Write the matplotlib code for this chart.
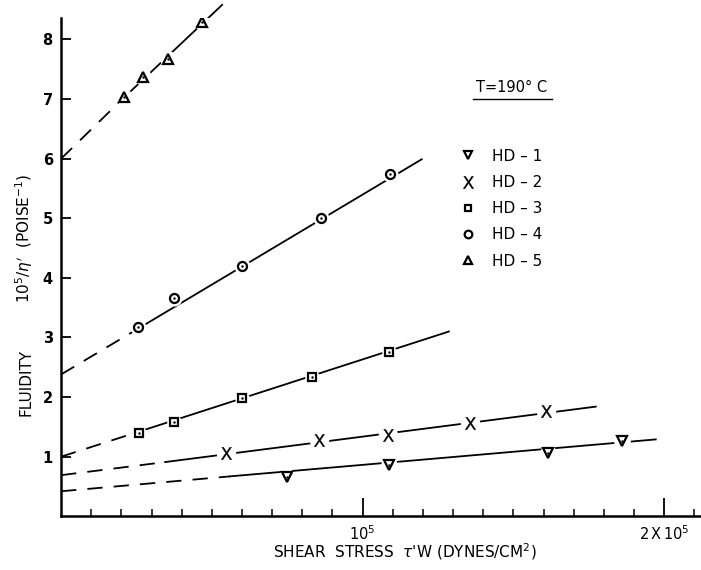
import numpy as np
import matplotlib
matplotlib.use('Agg')
import matplotlib.pyplot as plt
from matplotlib.lines import Line2D

plt.rcParams['font.family'] = ['DejaVu Sans']
plt.rcParams['mathtext.fontset'] = 'dejavusans'
plt.rcParams['lines.scale_dashes'] = False

# shear stress (dynes/cm2) and fluidity 10^5/eta' (poise^-1)
hd1_x = [74.8e3, 108.8e3, 161.3e3, 186.1e3]
hd1_y = [0.66, 0.86, 1.06, 1.26]
hd2_x = [54.6e3, 85.5e3, 108.5e3, 135.6e3, 160.8e3]
hd2_y = [1.07, 1.28, 1.36, 1.56, 1.76]
hd3_x = [25.8e3, 37.4e3, 60.0e3, 83.1e3, 108.7e3]
hd3_y = [1.39, 1.59, 1.98, 2.33, 2.76]
hd4_x = [25.6e3, 37.4e3, 60.1e3, 86.1e3, 109.1e3]
hd4_y = [3.17, 3.67, 4.20, 5.01, 5.74]
hd5_x = [20.96e3, 27.25e3, 35.35e3, 46.82e3]
hd5_y = [7.03, 7.37, 7.67, 8.29]

# fitted lines: intercept, point where dashes turn solid, end point
fit_b    = [0.42, 0.69, 1.00, 2.38, 6.00]
fit_sw_x = [56.0e3, 34.5e3, 25.8e3, 25.6e3, 20.96e3]
fit_sw_y = [0.67, 0.91, 1.42, 3.15, 7.03]
fit_end_x = [197.2e3, 177.3e3, 128.6e3, 119.6e3, 53.4e3]
fit_end_y = [1.29, 1.84, 3.10, 5.99, 8.58]

labels = ['HD – 1', 'HD – 2', 'HD – 3', 'HD – 4', 'HD – 5']
xs = [hd1_x, hd2_x, hd3_x, hd4_x, hd5_x]
ys = [hd1_y, hd2_y, hd3_y, hd4_y, hd5_y]
mkrs = ['v', r'$\mathrm{X}$', 's', 'o', '^']
msz  = [7, 9, 5.5, 6.5, 7]

fig = plt.figure(figsize=(7.01, 5.70), dpi=100)
ax = fig.add_axes([61.1/701, (570-516.3)/570, (701-61.1)/701, (516.3-18)/570])

ax.set_xlim(0, 212.2e3)
ax.set_ylim(0, 8.36)

for i in range(5):
  # dashed extrapolation to zero stress
  ax.plot([0, fit_sw_x[i]], [fit_b[i], fit_sw_y[i]], c='k', lw=1.3,
          ls=(0, (11, 8)), clip_on=False, zorder=2)
  ax.plot([fit_sw_x[i], fit_end_x[i]], [fit_sw_y[i], fit_end_y[i]], c='k',
          lw=1.3, clip_on=False, zorder=2)
  # white halo under the symbols
  ax.plot(xs[i], ys[i], ls='none', marker='o', ms=msz[i]+5, mfc='white',
          mec='none', zorder=3)
  if i == 1:
    ax.plot(xs[i], ys[i], ls='none', marker=mkrs[i], ms=msz[i], c='k',
            mew=0.2, zorder=4)
  else:
    ax.plot(xs[i], ys[i], ls='none', marker=mkrs[i], ms=msz[i], mfc='white',
            mec='k', mew=1.6, zorder=4)
    ax.plot(xs[i], ys[i], ls='none', marker='.', ms=1.5, c='k', zorder=5)

# axes styling
for s in ['top', 'right']:
  ax.spines[s].set_visible(False)
for s in ['left', 'bottom']:
  ax.spines[s].set_linewidth(1.8)

ax.set_yticks(range(1, 9))
ax.set_yticklabels([str(v) for v in range(1, 9)], fontsize=10.5, fontweight='bold')
ax.tick_params(axis='y', direction='in', length=7, width=1.3, pad=6)

ax.set_xticks([1e5, 2e5])
ax.set_xticklabels([r'$10^5$', r'$2\,\mathrm{X}\,10^5$'], fontsize=10.5)
ax.set_xticks([v*1e4 for v in range(1, 22) if v not in (10, 20)], minor=True)
ax.tick_params(axis='x', which='major', direction='in', length=13, width=1.3, pad=6)
ax.tick_params(axis='x', which='minor', direction='in', length=5, width=1.1)

# axis labels
fig.text(26/701, 1-382/570, 'FLUIDITY', rotation=90, ha='center', va='center',
         fontsize=11)
fig.text(24/701, 1-238/570, r"$10^5/\eta'$  (POISE$^{-1}$)", rotation=90,
         ha='center', va='center', fontsize=11)
fig.text(405/701, 1-552/570, r"SHEAR  STRESS  $\tau$'W (DYNES/CM$^2$)",
         ha='center', va='center', fontsize=11)

# temperature note
fig.text(512/701, 1-88/570, 'T=190° C', ha='center', va='center', fontsize=10.5)
fig.add_artist(Line2D([473/701, 552/701], [1-99/570, 1-99/570], c='k', lw=1.0))

# legend
hdl = []
for i in range(5):
  if i == 1:
    hdl.append(Line2D([], [], ls='none', marker=mkrs[i], ms=msz[i], c='k', mew=0.2))
  else:
    hdl.append(Line2D([], [], ls='none', marker=mkrs[i], ms=msz[i]-1, mfc='white',
                      mec='k', mew=1.6))
ax.legend(hdl, labels, loc='upper left', bbox_to_anchor=(0.624, 0.738),
          frameon=False, fontsize=11, handlelength=1.0, handletextpad=1.1,
          labelspacing=0.74, borderpad=0, borderaxespad=0)

plt.savefig('out.png', dpi=100)
plt.close()
